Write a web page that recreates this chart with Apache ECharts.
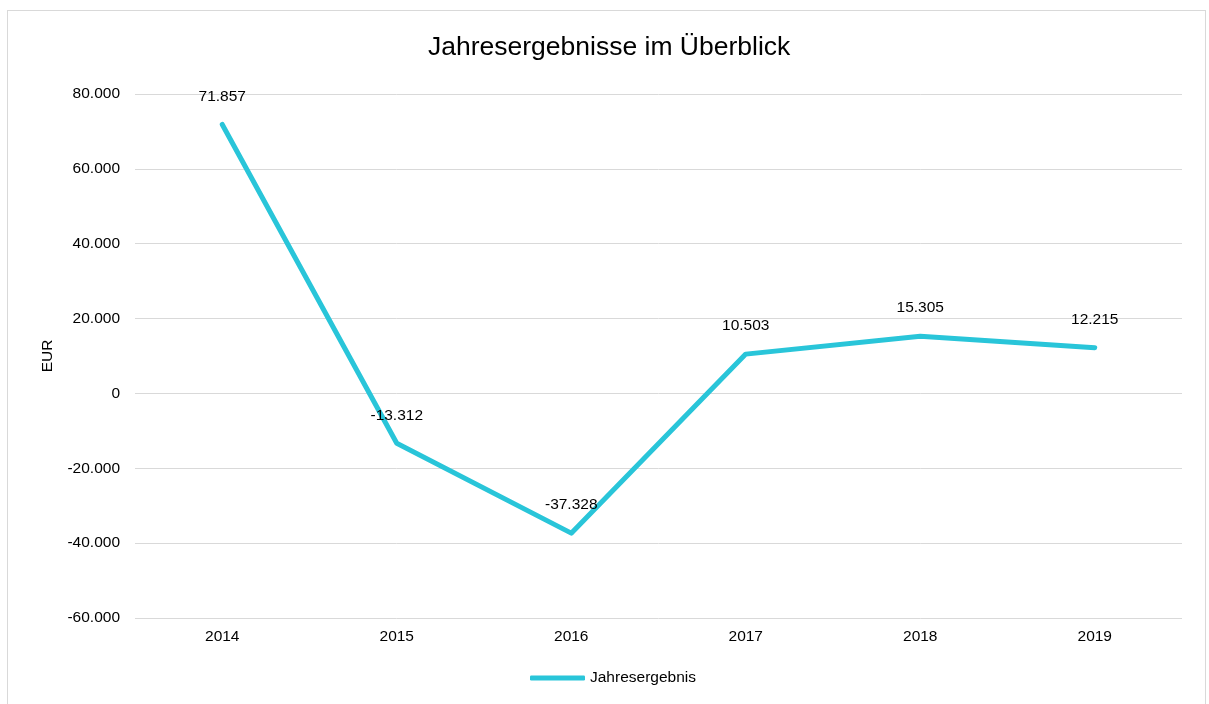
<!DOCTYPE html>
<html>
<head>
<meta charset="utf-8">
<script src="https://cdn.jsdelivr.net/npm/echarts@6/dist/echarts.min.js"></script>
<style>
  html, body { margin: 0; padding: 0; background: #fff; }
  #frame { position: absolute; left: 7px; top: 10px; width: 1197px; height: 720px; border: 1px solid #d9d9d9; }
  #chart { position: absolute; left: 0; top: 0; width: 1209px; height: 704px; }
</style>
</head>
<body>
<div id="frame"></div>
<div id="chart"></div>
<script>
// Jahresergebnis je Jahr (EUR)
const years = ['2014', '2015', '2016', '2017', '2018', '2019'];
const ergebnis = [71857, -13312, -37328, 10503, 15305, 12215];

// deutsche Tausendertrennung: 71857 -> 71.857
function fmtDe(v) {
  const s = String(Math.abs(v)).replace(/\B(?=(\d{3})+(?!\d))/g, '.');
  return (v < 0 ? '-' : '') + s;
}

const font = 'Liberation Sans, Arial, sans-serif';
const fs = 15.5;
const lineColor = '#29c5d9';
let myChart = echarts.init(document.getElementById('chart'));

myChart.setOption({
  animation: false,
  title: {
    text: 'Jahresergebnisse im Überblick',
    left: 423,
    top: 29,
    textStyle: { fontFamily: font, fontSize: 26.5, fontWeight: 'normal', color: '#000' }
  },
  grid: { left: 135, right: 27, top: 94, bottom: 86 },
  legend: {
    bottom: 13,
    left: 525,
    icon: 'roundRect',
    itemWidth: 55,
    itemHeight: 5,
    itemGap: 4,
    textStyle: { fontFamily: font, fontSize: fs, color: '#000' },
    data: ['Jahresergebnis']
  },
  xAxis: {
    type: 'category',
    data: years,
    boundaryGap: true,
    axisLine: { show: false },
    axisTick: { show: false },
    axisLabel: { fontFamily: font, fontSize: fs, color: '#000', margin: 11 }
  },
  yAxis: {
    type: 'value',
    min: -60000,
    max: 80000,
    interval: 20000,
    name: 'EUR',
    nameLocation: 'middle',
    nameGap: 79,
    nameRotate: 90,
    nameTextStyle: { fontFamily: font, fontSize: fs, color: '#000' },
    axisLine: { show: false },
    axisTick: { show: false },
    splitLine: { lineStyle: { color: '#d9d9d9', width: 1 } },
    axisLabel: { fontFamily: font, fontSize: fs, color: '#000', margin: 15, formatter: fmtDe }
  },
  series: [{
    name: 'Jahresergebnis',
    type: 'line',
    data: ergebnis,
    symbol: 'circle',
    symbolSize: 2,
    lineStyle: { color: lineColor, width: 5, cap: 'round', join: 'round' },
    itemStyle: { color: lineColor },
    label: {
      show: true,
      position: 'top',
      distance: 19,
      fontFamily: font,
      fontSize: fs,
      color: '#000',
      formatter: p => fmtDe(p.value)
    }
  }]
});
</script>
</body>
</html>
